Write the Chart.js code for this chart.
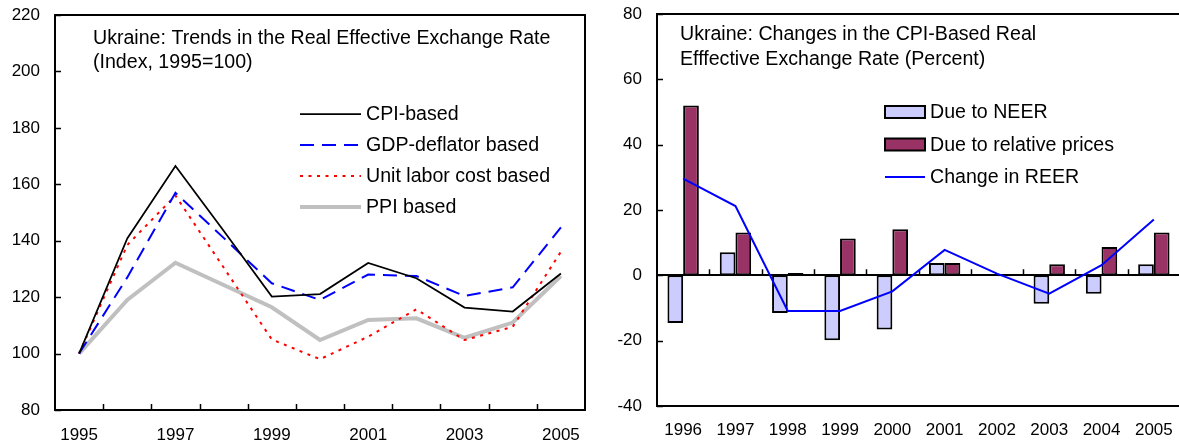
<!DOCTYPE html>
<html>
<head>
<meta charset="utf-8">
<title>Ukraine REER</title>
<script src="https://cdn.jsdelivr.net/npm/chart.js@4.4.1/dist/chart.umd.min.js"></script>
<style>
  html, body { margin: 0; padding: 0; background: #fff; overflow: hidden; }
  #wrap { position: relative; width: 1179px; height: 443px; overflow: hidden; }
  #leftBox { position: absolute; left: 0; top: 0; }
  #rightBox { position: absolute; left: 600px; top: 0; }
  canvas { display: block; }
</style>
</head>
<body>
<div id="wrap">
  <div id="leftBox"><canvas id="ChartTrends" width="600" height="443"></canvas></div>
  <div id="rightBox"><canvas id="ChartChanges" width="590" height="443"></canvas></div>
</div>
<script>
// left chart data
var years = ['1995', '1996', '1997', '1998', '1999', '2000', '2001', '2002', '2003', '2004', '2005'];
var cpiBased = [100, 140.8, 166.5, 143.5, 120.2, 121.1, 132.1, 126.7, 116.3, 114.9, 128.4];
var gdpDeflator = [100, 127, 157, 141, 124.9, 119, 128, 127.5, 120.4, 123.5, 144.7];
var unitLaborCost = [100, 138.5, 156, 130.5, 105, 98, 106, 115.7, 104.8, 109.5, 136.1];
var ppiBased = [100, 119, 132.2, 124.3, 116.4, 104.8, 111.9, 112.5, 105.6, 111, 127.5];

// right chart data
var changeYears = ['1996', '1997', '1998', '1999', '2000', '2001', '2002', '2003', '2004', '2005'];
var dueNeer = [-14.6, 7.1, -11.5, -19.9, -16.6, 3.8, -0.2, -8.7, -5.6, 3.4];
var dueRelPrices = [52.0, 13.1, 0.7, 11.3, 14.1, 3.8, -0.3, 3.4, 8.7, 13.1];
var changeReer = [29.6, 21.2, -10.9, -10.9, -4.9, 7.8, 0.5, -5.6, 3.1, 17.1];

Chart.defaults.font.family = "'Liberation Sans', Arial, sans-serif";
Chart.defaults.font.size = 17;
Chart.defaults.color = '#000';

var FONT_TXT = "19.6px 'Liberation Sans', Arial, sans-serif";

// frame, inner ticks, zero line
var framePlugin = {
  id: 'frame',
  beforeDatasetsDraw: function(chart, args, opts) {
    var ctx = chart.ctx;
    var a = chart.chartArea;
    var xs = chart.scales.x;
    var ys = chart.scales.y;
    ctx.save();
    ctx.strokeStyle = '#000';
    ctx.lineWidth = 1.5;
    ctx.beginPath();
    ys.ticks.forEach(function(t) {
      var py = Math.round(ys.getPixelForValue(t.value)) + 0.5;
      ctx.moveTo(a.left, py);
      ctx.lineTo(a.left + 6, py);
    });
    var base = ys.getPixelForValue(opts.tickBase);
    var n = xs.ticks.length;
    for (var i = 1; i < n; i++) {
      var px = Math.round((xs.getPixelForValue(i - 1) + xs.getPixelForValue(i)) / 2) + 0.5;
      ctx.moveTo(px, base);
      ctx.lineTo(px, base - 6);
    }
    ctx.stroke();
    if (opts.zeroLine) {
      ctx.lineWidth = 2;
      ctx.beginPath();
      ctx.moveTo(a.left, Math.round(base));
      ctx.lineTo(a.right, Math.round(base));
      ctx.stroke();
    }
    ctx.lineWidth = 2;
    ctx.strokeRect(a.left, a.top, a.right - a.left, a.bottom - a.top);
    ctx.restore();
  }
};

// title lines and legend inside the plot
var textPlugin = {
  id: 'texts',
  afterDraw: function(chart, args, opts) {
    var ctx = chart.ctx;
    ctx.save();
    ctx.font = FONT_TXT;
    ctx.fillStyle = '#000';
    ctx.textBaseline = 'middle';
    opts.title.forEach(function(t) {
      ctx.fillText(t.text, t.x, t.y);
    });
    var lg = opts.legend;
    chart.data.datasets.forEach(function(ds, i) {
      var y = lg.y + i * lg.dy;
      var type = ds.type || chart.config.type;
      if (type === 'bar') {
        ctx.fillStyle = ds.backgroundColor;
        ctx.fillRect(lg.x, y - 6, lg.w, 12);
        ctx.strokeStyle = '#000';
        ctx.lineWidth = 2;
        ctx.strokeRect(lg.x, y - 6, lg.w, 12);
      } else {
        ctx.strokeStyle = ds.borderColor;
        ctx.lineWidth = ds.borderWidth;
        ctx.setLineDash(ds.borderDash || []);
        ctx.beginPath();
        ctx.moveTo(lg.x, y);
        ctx.lineTo(lg.x + lg.w, y);
        ctx.stroke();
        ctx.setLineDash([]);
      }
      ctx.fillStyle = '#000';
      ctx.fillText(ds.label, lg.x + lg.w + 5, y + 1);
    });
    ctx.restore();
  }
};

function fixY(width) {
  return function(s) {
    s.width = width;
    s.paddingTop = 0;
    s.paddingBottom = 0;
  };
}

function generarGraficaTrends() {
  var ctx = document.getElementById('ChartTrends').getContext('2d');
  var myChart = new Chart(ctx, {
    type: 'line',
    data: {
      labels: years,
      datasets: [{
        label: 'CPI-based',
        data: cpiBased,
        borderColor: '#000000',
        borderWidth: 1.75
      }, {
        label: 'GDP-deflator based',
        data: gdpDeflator,
        borderColor: '#0000ff',
        borderWidth: 2,
        borderDash: [14, 8]
      }, {
        label: 'Unit labor cost based',
        data: unitLaborCost,
        borderColor: '#ff0000',
        borderWidth: 2,
        borderDash: [3, 5.5]
      }, {
        label: 'PPI based',
        data: ppiBased,
        borderColor: '#c0c0c0',
        borderWidth: 4
      }]
    },
    options: {
      responsive: false,
      animation: false,
      elements: { point: { radius: 0 }, line: { tension: 0 } },
      layout: { autoPadding: false, padding: { top: 15, right: 15, left: 0, bottom: 0 } },
      scales: {
        x: {
          offset: true,
          grid: { display: false, drawTicks: false },
          border: { display: false },
          ticks: {
            autoSkip: false,
            maxRotation: 0,
            padding: 15,
            callback: function(val, i) { return i % 2 === 0 ? this.getLabelForValue(val) : ''; }
          },
          afterFit: function(s) { s.height = 33; }
        },
        y: {
          min: 80,
          max: 220,
          grid: { display: false, drawTicks: false },
          border: { display: false },
          ticks: { stepSize: 20, padding: 15 },
          afterFit: fixY(55)
        }
      },
      plugins: {
        legend: { display: false },
        tooltip: { enabled: false },
        frame: { tickBase: 80, zeroLine: false },
        texts: {
          title: [
            { text: 'Ukraine: Trends in the Real Effective Exchange Rate', x: 93, y: 39 },
            { text: '(Index, 1995=100)', x: 93, y: 63 }
          ],
          legend: { x: 300, y: 114, dy: 31, w: 61 }
        }
      }
    },
    plugins: [framePlugin, textPlugin]
  });
}

function generarGraficaChanges() {
  var ctx = document.getElementById('ChartChanges').getContext('2d');
  var myChart = new Chart(ctx, {
    type: 'bar',
    data: {
      labels: changeYears,
      datasets: [{
        label: 'Due to NEER',
        data: dueNeer,
        backgroundColor: '#ccccff',
        borderColor: '#000000',
        borderWidth: 2,
        borderSkipped: false,
        categoryPercentage: 0.6,
        barPercentage: 1.0,
        order: 1
      }, {
        label: 'Due to relative prices',
        data: dueRelPrices,
        backgroundColor: '#993366',
        borderColor: '#000000',
        borderWidth: 2,
        borderSkipped: false,
        categoryPercentage: 0.6,
        barPercentage: 1.0,
        order: 1
      }, {
        type: 'line',
        label: 'Change in REER',
        data: changeReer,
        borderColor: '#0000ff',
        borderWidth: 2,
        pointRadius: 0,
        tension: 0,
        order: 0
      }]
    },
    options: {
      responsive: false,
      animation: false,
      layout: { autoPadding: false, padding: { top: 14, right: 10, left: 0, bottom: 0 } },
      scales: {
        x: {
          offset: true,
          grid: { display: false, drawTicks: false },
          border: { display: false },
          ticks: { autoSkip: false, maxRotation: 0, padding: 14 },
          afterFit: function(s) { s.height = 37; }
        },
        y: {
          min: -40,
          max: 80,
          grid: { display: false, drawTicks: false },
          border: { display: false },
          ticks: { stepSize: 20, padding: 15 },
          afterFit: fixY(57)
        }
      },
      plugins: {
        legend: { display: false },
        tooltip: { enabled: false },
        frame: { tickBase: 0, zeroLine: true },
        texts: {
          title: [
            { text: 'Ukraine: Changes in the CPI-Based Real', x: 80, y: 35 },
            { text: 'Efffective Exchange Rate (Percent)', x: 80, y: 60 }
          ],
          legend: { x: 285, y: 112, dy: 32.5, w: 40 }
        }
      }
    },
    plugins: [framePlugin, textPlugin]
  });
}

generarGraficaTrends();
generarGraficaChanges();
</script>
</body>
</html>
